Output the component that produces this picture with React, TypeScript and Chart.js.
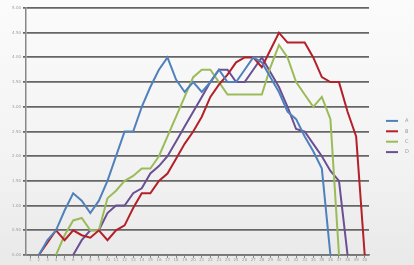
import React, { useEffect, useRef } from "react";
import { Chart, registerables } from "chart.js";

Chart.register(...registerables);

const categories: string[] = [
  "1","2","3","4","5","6","7","8","9","10",
  "11","12","13","14","15","16","17","18","19","20",
  "21","22","23","24","25","26","27","28","29","30",
  "31","32","33","34","35","36","37","38","39","40",
];

const yTickLabels: string[] = ["0.00","0.50","1.00","1.50","2.00","2.50","3.00","3.50","4.00","4.50","5.00"];

const seriesNames: string[] = ["A", "B", "C", "D"];
const seriesColors: string[] = ["#4f81bd", "#b3202a", "#9bbb59", "#6a4f93"];

const seriesA: (number | null)[] = [
  null, 0, 0.6, 1.0, 1.8, 2.5, 2.2, 1.7, 2.2, 3.0,
  4.0, 5.0, 5.0, 6.0, 6.8, 7.5, 8.0, 7.1, 6.6, 7.0,
  6.6, 7.0, 7.5, 7.0, 7.0, 7.5, 8.0, 7.8, 7.2, 6.6,
  5.8, 5.5, 4.8, 4.2, 3.5, 0, null, null, null, null,
];
const seriesB: (number | null)[] = [
  null, 0, 0.5, 1.0, 0.6, 1.0, 0.8, 0.7, 1.0, 0.6,
  1.0, 1.2, 1.9, 2.5, 2.5, 3.0, 3.3, 3.9, 4.5, 5.0,
  5.6, 6.4, 6.9, 7.3, 7.8, 8.0, 8.0, 7.6, 8.3, 9.0,
  8.6, 8.6, 8.6, 8.0, 7.2, 7.0, 7.0, 5.8, 4.8, 0,
];
const seriesC: (number | null)[] = [
  null, null, null, 0, 0.8, 1.4, 1.5, 1.0, 1.0, 2.3,
  2.6, 3.0, 3.2, 3.5, 3.5, 4.0, 4.8, 5.6, 6.4, 7.2,
  7.5, 7.5, 7.0, 6.5, 6.5, 6.5, 6.5, 6.5, 7.6, 8.5,
  8.0, 7.0, 6.5, 6.0, 6.4, 5.5, 0, null, null, null,
];
const seriesD: (number | null)[] = [
  null, null, null, null, null, 0, 0.6, 1.0, 1.0, 1.7,
  2.0, 2.0, 2.5, 2.7, 3.3, 3.6, 4.0, 4.6, 5.2, 5.8,
  6.4, 7.0, 7.5, 7.5, 7.0, 7.0, 7.5, 8.0, 7.4, 6.8,
  6.0, 5.1, 5.0, 4.5, 4.0, 3.4, 3.0, 0, null, null,
];

const allSeries = [seriesA, seriesB, seriesC, seriesD];

const sideLegend = {
  id: "sideLegend",
  afterDraw(chart: any) {
    const ctx = chart.ctx;
    const area = chart.chartArea;
    const x0 = area.right + 17;
    const yMid = (area.top + area.bottom) / 2;
    const gap = 10.4;
    const yStart = yMid - gap * 1.5 + 5;
    ctx.save();
    ctx.font = "5px 'DejaVu Sans'";
    ctx.textBaseline = "middle";
    seriesNames.forEach((name, i) => {
      const y = yStart + i * gap;
      ctx.strokeStyle = seriesColors[i];
      ctx.lineWidth = 2;
      ctx.beginPath();
      ctx.moveTo(x0, y);
      ctx.lineTo(x0 + 12, y);
      ctx.stroke();
      ctx.fillStyle = "#9a9a9a";
      ctx.fillText(name, x0 + 19, y);
    });
    ctx.restore();
  },
};

export default function App() {
  const ref = useRef<HTMLCanvasElement | null>(null);

  useEffect(() => {
    document.body.style.margin = "0";
    if (!ref.current) return;
    const chart = new Chart(ref.current, {
      type: "line",
      data: {
        labels: categories,
        datasets: allSeries.map((s, i) => ({
          label: seriesNames[i],
          data: s,
          borderColor: seriesColors[i],
          backgroundColor: seriesColors[i],
          borderWidth: 2,
          pointRadius: 0,
          tension: 0,
          spanGaps: false,
        })),
      },
      options: {
        responsive: false,
        animation: false,
        maintainAspectRatio: false,
        layout: { padding: { top: 8, right: 45, left: 0, bottom: 0 } },
        plugins: {
          legend: { display: false },
          tooltip: { enabled: false },
        },
        scales: {
          x: {
            offset: true,
            grid: {
              display: true,
              drawOnChartArea: false,
              drawTicks: true,
              tickLength: 3,
              color: "#888",
            },
            border: { display: true, color: "#777", width: 1.5 },
            ticks: {
              autoSkip: false,
              maxRotation: 0,
              minRotation: 0,
              padding: 0,
              color: "#9a9a9a",
              font: { size: 4, family: "DejaVu Sans" },
            },
            afterFit: (scale: any) => {
              scale.height = 10;
            },
          },
          y: {
            min: 0,
            max: 10,
            grid: {
              color: "#666666",
              lineWidth: 1.8,
              tickLength: 3,
            },
            border: { display: true, color: "#888", width: 1.5 },
            ticks: {
              stepSize: 1,
              padding: 2,
              color: "#9a9a9a",
              font: { size: 4, family: "DejaVu Sans" },
              callback: (_v: any, idx: number) => yTickLabels[idx],
            },
            afterFit: (scale: any) => {
              scale.width = 26;
            },
          },
        },
      },
      plugins: [sideLegend],
    });
    return () => chart.destroy();
  }, []);

  return (
    <div
      style={{
        width: 414,
        height: 265,
        background: "linear-gradient(to bottom, #fbfbfb 0%, #f3f3f3 60%, #e9e9e9 100%)",
      }}
    >
      <canvas ref={ref} width={414} height={265} style={{ display: "block" }} />
    </div>
  );
}
